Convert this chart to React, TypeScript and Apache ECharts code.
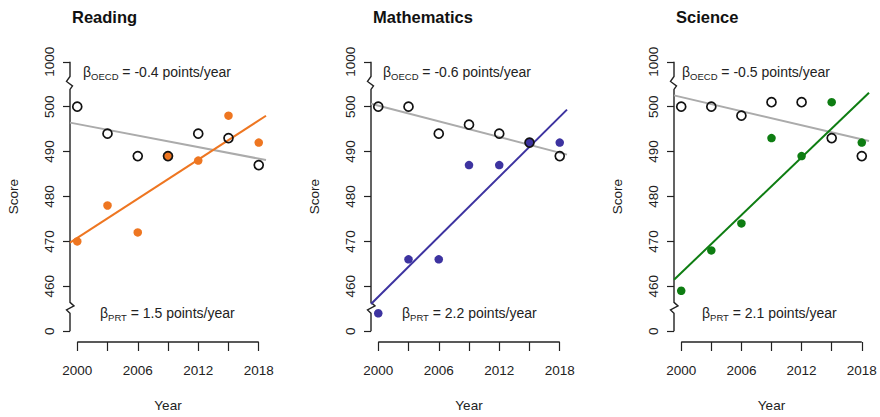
import React, { useEffect, useRef } from "react";
import * as echarts from "echarts";

// ---- data ----
const years = [2000, 2003, 2006, 2009, 2012, 2015, 2018];
const subjects = ["Reading", "Mathematics", "Science"];
const oecdReading = [500, 494, 489, 489, 494, 493, 487];
const prtReading = [470, 478, 472, 489, 488, 498, 492];
const oecdMath = [500, 500, 494, 496, 494, 492, 489];
const prtMath = [454, 466, 466, 487, 487, 492, 492];
const oecdScience = [500, 500, 498, 501, 501, 493, 489];
const prtScience = [459, 468, 474, 493, 489, 501, 492];
const oecdSlopeLabels = ["-0.4", "-0.6", "-0.5"];
const prtSlopeLabels = ["1.5", "2.2", "2.1"];
const yTicks = [450, 460, 470, 480, 490, 500, 510];
const yTickLabels = ["0", "460", "470", "480", "490", "500", "1000"];
const xTickLabels = [2000, 2006, 2012, 2018];

// ---- layout / style ----
const prtColors = ["#EE7621", "#3D33A0", "#0E7D12"];
const oecdLineColor = "#ABABAB";
const gridLefts = [70, 371, 674];
const gridWidths = [196, 196, 195];
const gridTop = 51;
const gridHeight = 296;
const X_MIN = 1999.28;
const X_MAX = 2018.72;
const Y_MIN = 447.6;
const Y_MAX = 512.4;
const oecdTextX = [83, 383, 682];
const prtTextX = [100, 402, 702];
const FONT = "Liberation Sans, Arial, Helvetica, sans-serif";
const INK = "#222";

const oecdAll = [oecdReading, oecdMath, oecdScience];
const prtAll = [prtReading, prtMath, prtScience];

function fit(xs: number[], ys: number[]) {
  const n = xs.length;
  const mx = xs.reduce((a, b) => a + b, 0) / n;
  const my = ys.reduce((a, b) => a + b, 0) / n;
  let sxy = 0;
  let sxx = 0;
  for (let i = 0; i < n; i++) {
    sxy += (xs[i] - mx) * (ys[i] - my);
    sxx += (xs[i] - mx) * (xs[i] - mx);
  }
  const b = sxy / sxx;
  const a = my - b * mx;
  return [
    [X_MIN, a + b * X_MIN],
    [X_MAX, a + b * X_MAX],
  ];
}

export default function App() {
  const ref = useRef<HTMLDivElement>(null);
  useEffect(() => {
    document.body.style.margin = "0";
    const chart = echarts.init(ref.current!, null, { renderer: "svg" });
    const grids: any[] = [];
    const xAxes: any[] = [];
    const yAxes: any[] = [];
    const series: any[] = [];
    const titles: any[] = [];
    for (let i = 0; i < 3; i++) {
      grids.push({ left: gridLefts[i], width: gridWidths[i], top: gridTop, height: gridHeight });
      titles.push({
        text: subjects[i],
        left: gridLefts[i] + 2,
        top: 8,
        padding: 0,
        textStyle: { fontSize: 16.5, fontWeight: "bold", color: "#111", fontFamily: FONT },
      });
      xAxes.push({
        type: "value",
        gridIndex: i,
        min: X_MIN,
        max: X_MAX,
        splitLine: { show: false },
        axisLine: { show: false },
        axisTick: { show: true, length: 9, inside: false, customValues: years, lineStyle: { color: INK, width: 1.2 } },
        axisLabel: {
          customValues: xTickLabels,
          margin: 21,
          fontSize: 13.5,
          color: INK,
          fontFamily: FONT,
          formatter: (v: number) => String(Math.round(v)),
        },
        name: "Year",
        nameLocation: "middle",
        nameGap: 56,
        nameTextStyle: { fontSize: 13.5, color: INK, fontFamily: FONT },
      });
      yAxes.push({
        type: "value",
        gridIndex: i,
        min: Y_MIN,
        max: Y_MAX,
        splitLine: { show: false },
        axisLine: { show: false },
        axisTick: { show: true, length: 7, inside: false, customValues: yTicks, lineStyle: { color: INK, width: 1.2 } },
        axisLabel: {
          customValues: yTicks,
          rotate: 90,
          margin: 14,
          fontSize: 13.5,
          color: INK,
          fontFamily: FONT,
          formatter: (v: number) => {
            const k = yTicks.indexOf(Math.round(v));
            return k >= 0 ? yTickLabels[k] : "";
          },
        },
        name: "Score",
        nameLocation: "middle",
        nameGap: 50,
        nameTextStyle: { fontSize: 13.5, color: INK, fontFamily: FONT },
      });
      series.push({
        type: "line",
        xAxisIndex: i,
        yAxisIndex: i,
        data: fit(years, oecdAll[i]),
        showSymbol: false,
        symbol: "none",
        lineStyle: { color: oecdLineColor, width: 2 },
        silent: true,
        z: 2,
      });
      series.push({
        type: "line",
        xAxisIndex: i,
        yAxisIndex: i,
        data: fit(years, prtAll[i]),
        showSymbol: false,
        symbol: "none",
        lineStyle: { color: prtColors[i], width: 2 },
        silent: true,
        z: 3,
      });
      series.push({
        type: "scatter",
        xAxisIndex: i,
        yAxisIndex: i,
        data: years.map((y, k) => [y, prtAll[i][k]]),
        symbol: "circle",
        symbolSize: 8.5,
        itemStyle: { color: prtColors[i], opacity: 1 },
        silent: true,
        z: 4,
      });
      series.push({
        type: "scatter",
        xAxisIndex: i,
        yAxisIndex: i,
        data: years.map((y, k) => [y, oecdAll[i][k]]),
        symbol: "circle",
        symbolSize: 9,
        itemStyle: { color: "rgba(0,0,0,0)", borderColor: "#111", borderWidth: 1.7, opacity: 1 },
        silent: true,
        z: 5,
      });
    }
    chart.setOption({
      animation: false,
      backgroundColor: "#fff",
      title: titles,
      grid: grids,
      xAxis: xAxes,
      yAxis: yAxes,
      series,
    });

    const graphics: any[] = [];
    for (let i = 0; i < 3; i++) {
      const p = (x: number, y: number) => chart.convertToPixel({ gridIndex: i } as any, [x, y]) as number[];
      const yb = p(X_MIN, Y_MIN)[1];
      const xa = p(2000, Y_MIN)[0];
      const xb = p(2018, Y_MIN)[0];
      graphics.push({
        type: "line",
        shape: { x1: xa, y1: yb, x2: xb, y2: yb },
        style: { stroke: INK, lineWidth: 1.4 },
        silent: true,
      });
      const ax = p(X_MIN, 450)[0];
      const yTop = p(X_MIN, 510)[1];
      const yBot = p(X_MIN, 450)[1];
      const cT = p(X_MIN, 505.4)[1];
      const cB = p(X_MIN, 455.2)[1];
      graphics.push({
        type: "polyline",
        shape: {
          points: [
            [ax, yTop],
            [ax, cT - 6],
            [ax - 3.5, cT - 1],
            [ax + 2.5, cT + 3.5],
            [ax, cT + 7],
            [ax, cB - 5.5],
            [ax + 4, cB - 2],
            [ax - 3.5, cB + 2],
            [ax, cB + 5.5],
            [ax, yBot],
          ],
        },
        style: { stroke: INK, lineWidth: 1.4, fill: "none" },
        silent: true,
      });
      const rich = {
        b: { fontSize: 14, fontFamily: FONT, color: INK },
        s: { fontSize: 9.5, fontFamily: FONT, color: INK, padding: [8, 0, 0, 0] },
        m: { fontSize: 14, fontFamily: FONT, color: INK },
      };
      graphics.push({
        type: "text",
        x: oecdTextX[i],
        y: 72,
        style: {
          text: `{b|β}{s|OECD}{m| = ${oecdSlopeLabels[i]} points/year}`,
          rich,
          verticalAlign: "middle",
          fill: INK,
        },
        silent: true,
      });
      graphics.push({
        type: "text",
        x: prtTextX[i],
        y: 313,
        style: {
          text: `{b|β}{s|PRT}{m| = ${prtSlopeLabels[i]} points/year}`,
          rich,
          verticalAlign: "middle",
          fill: INK,
        },
        silent: true,
      });
    }
    chart.setOption({ graphic: graphics });
    return () => chart.dispose();
  }, []);
  return <div ref={ref} style={{ width: 880, height: 417 }} />;
}
